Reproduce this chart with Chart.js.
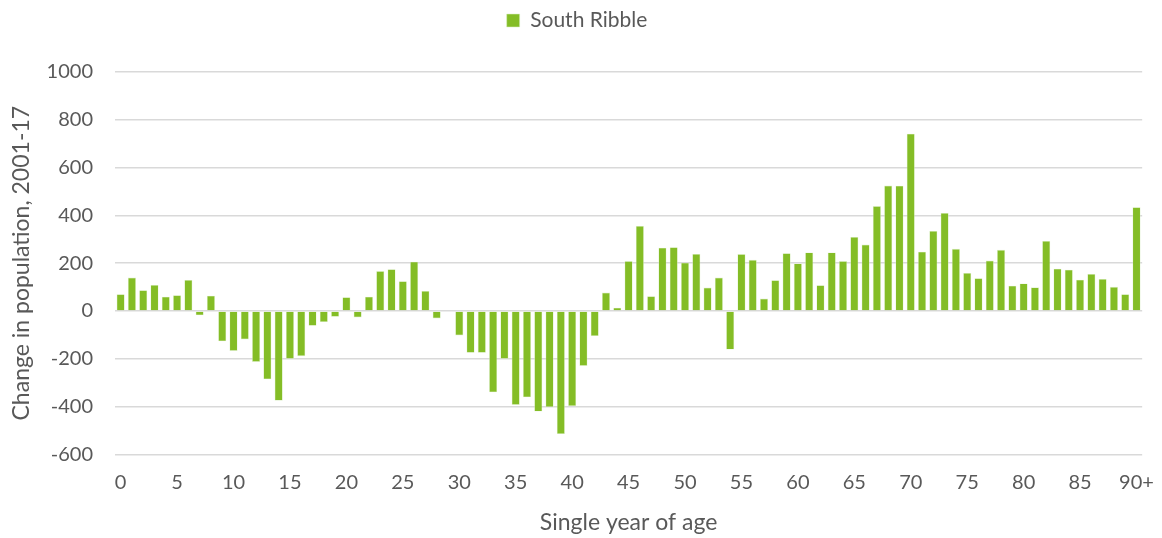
<!DOCTYPE html>
<html lang="en">
<head>
    <meta charset="UTF-8">
    <title>South Ribble</title>
    <script src="https://cdn.jsdelivr.net/npm/chart.js"></script>
    <style>
        html, body { margin: 0; padding: 0; background: #fff; }
        .caixa { width: 1162px; height: 538px; }
    </style>
</head>
<body>
<div class="caixa">
    <canvas id="grafico_idade" width="1162" height="538"></canvas>
</div>
<script>
    // idades 0..89 e 90+
    const idades = [];
    for (let i = 0; i < 90; i++) idades.push(String(i));
    idades.push('90+');

    // variacao da populacao 2001-17 por idade
    const variacao = [
        70, 140, 87, 109, 60, 66, 130, -18, 64, -127,
        -167, -119, -213, -286, -375, -200, -189, -62, -46, -24,
        58, -27, 60, 167, 175, 125, 206, 84, -31, 0,
        -102, -175, -175, -340, -200, -393, -361, -421, -402, -515,
        -398, -230, -105, 77, 14, 209, 356, 62, 265, 267,
        202, 239, 98, 140, -161, 238, 214, 52, 129, 242,
        199, 245, 108, 245, 209, 310, 278, 439, 525, 524,
        742, 248, 335, 410, 260, 159, 137, 211, 256, 106,
        115, 99, 293, 177, 173, 131, 155, 134, 101, 70,
        434
    ];

    const ticksY = [-600, -400, -200, 0, 200, 400, 600, 800, 1000];

    const corTexto = '#595959';
    const fonteTick = { family: 'Lato', size: 20 };
    const fonteTitulo = { family: 'Lato', size: 23 };
    const fonteLegenda = { family: 'Lato', size: 21 };

    // empurra a area do grafico para baixo da legenda
    const espacoLegenda = {
        id: 'espacoLegenda',
        beforeInit: function (chart) {
            const original = chart.legend.fit;
            chart.legend.fit = function () {
                original.bind(chart.legend)();
                this.height += 31;
            };
        }
    };

    const dados = {
        labels: idades,
        datasets: [{
            label: 'South Ribble',
            data: variacao,
            backgroundColor: 'rgb(132,189,38)',
            borderColor: 'rgba(220,240,200,0.9)',
            borderWidth: 0.6,
            barPercentage: 0.72,
            categoryPercentage: 1.0
        }]
    };

    const config = {
        type: 'bar',
        data: dados,
        plugins: [espacoLegenda],
        options: {
            responsive: false,
            animation: false,
            layout: { padding: { left: 8, right: 16, top: 4, bottom: 2 } },
            plugins: {
                legend: {
                    position: 'top',
                    labels: {
                        color: corTexto,
                        font: fonteLegenda,
                        boxWidth: 13,
                        boxHeight: 13,
                        padding: 6
                    }
                },
                tooltip: { enabled: false }
            },
            scales: {
                x: {
                    grid: { display: false },
                    border: { display: false },
                    ticks: {
                        color: corTexto,
                        font: fonteTick,
                        autoSkip: false,
                        maxRotation: 0,
                        padding: 8,
                        callback: function (valor, indice) {
                            return indice % 5 === 0 ? idades[indice] : '';
                        }
                    },
                    title: {
                        display: true,
                        text: 'Single year of age',
                        color: corTexto,
                        font: fonteTitulo,
                        padding: { top: 6, bottom: 0 }
                    }
                },
                y: {
                    min: -600,
                    max: 1000,
                    afterBuildTicks: function (eixo) {
                        eixo.ticks = ticksY.map(function (v) { return { value: v }; });
                    },
                    afterFit: function (eixo) {
                        eixo.width = 107;
                    },
                    grid: {
                        color: '#d9d9d9',
                        lineWidth: 1.5,
                        drawTicks: false
                    },
                    border: { display: false },
                    ticks: {
                        color: corTexto,
                        font: fonteTick,
                        padding: 22,
                        callback: function (valor) { return String(valor); }
                    },
                    title: {
                        display: true,
                        text: 'Change in population, 2001-17',
                        color: corTexto,
                        font: fonteTitulo,
                        padding: { top: 0, bottom: 0 }
                    }
                }
            }
        }
    };

    let grafico = new Chart(document.getElementById('grafico_idade'), config);
</script>
</body>
</html>
